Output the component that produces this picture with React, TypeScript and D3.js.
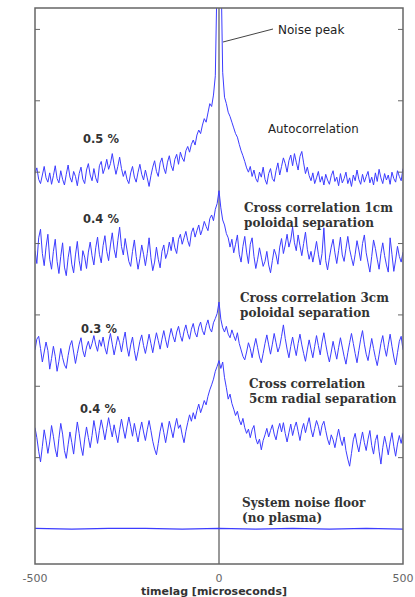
import React from 'react';
import * as d3 from 'd3';

// timelag in microseconds, 5 us step from -500 to 500
const timelag: number[] = d3.range(-500, 501, 5);

const autocorrelation = [
  49.8, 50.6, 49.0, 48.4, 49.6, 50.8, 49.2, 48.6, 49.9, 48.3,
  49.5, 50.9, 49.1, 48.5, 50.2, 49.0, 48.2, 49.7, 51.0, 49.3,
  48.6, 50.1, 49.4, 48.1, 49.8, 50.7, 49.0, 48.4, 50.3, 51.2,
  49.6, 48.8, 50.5, 49.2, 48.5, 50.9, 51.5, 49.8, 50.6, 51.8,
  50.4, 51.2, 52.6, 51.0, 49.7, 50.8, 52.1, 50.5, 49.4, 50.2,
  49.0, 48.4, 49.9, 50.8, 49.3, 48.6, 50.0, 51.1, 49.7, 48.9,
  50.3, 49.2, 48.0, 49.5, 50.7, 51.6, 50.1, 49.4, 51.3, 52.0,
  50.6, 49.8, 51.4, 52.3, 50.9, 50.2, 51.8, 52.5, 51.1, 52.8,
  52.0, 51.5, 53.0, 53.6, 52.8, 53.9, 54.5, 53.8, 55.2, 55.9,
  55.4, 56.6, 57.5, 57.0, 58.3, 59.6, 59.2, 60.8, 63.5, 78.0,
  90.0,
  80.0, 64.0, 60.5, 59.6, 58.4, 57.8, 57.0, 56.2, 55.4, 54.9,
  53.9, 53.0, 52.3, 51.5, 50.6, 50.0, 50.8, 49.4, 50.3, 49.1,
  48.6, 50.0, 49.3, 50.7, 49.0, 48.3, 49.8, 50.5, 49.1, 48.7,
  50.2, 51.3, 49.6, 50.8, 52.0, 51.2, 50.0, 51.6, 52.4, 50.9,
  52.6, 51.4, 50.3, 52.2, 52.9, 51.3, 49.8, 50.7, 49.5, 48.8,
  49.9, 48.4, 49.2, 50.1, 48.6, 49.4, 48.2, 49.7, 48.9, 48.3,
  49.5, 50.2, 48.7, 49.3, 48.1, 49.8, 48.5, 49.1, 50.0, 48.4,
  49.2, 48.0, 49.6, 48.8, 50.3, 49.0, 48.3, 49.7, 48.6, 49.4,
  50.1, 48.5, 49.3, 48.2, 49.9, 48.7, 50.4, 49.2, 48.4, 49.8,
  48.9, 49.6, 48.3, 50.0, 49.1, 48.6, 50.2, 49.4, 48.8, 50.5,
];

const cross1cm = [
  39.0, 37.2, 40.8, 42.0, 38.6, 36.9, 39.5, 41.3, 37.8, 36.4,
  38.9, 40.6, 37.5, 35.8, 38.2, 40.1, 36.7, 35.5, 38.0, 39.6,
  37.1, 35.9, 38.4, 40.3, 37.6, 36.2, 39.0, 38.1, 36.5, 38.8,
  40.2, 38.3, 37.0, 39.4, 40.9, 38.5, 37.3, 39.7, 41.1, 38.9,
  37.6, 39.8, 41.5, 39.2, 38.0, 40.4, 42.3, 39.6, 38.4, 40.7,
  39.1, 37.5, 36.8, 38.9, 40.5, 38.2, 36.4, 37.9, 39.8, 38.5,
  36.9, 38.6, 40.8, 38.0, 36.2, 37.4, 39.5, 37.8, 36.6, 38.9,
  39.8, 37.9, 38.7, 40.2, 39.0, 40.9, 39.4, 38.6, 40.6, 41.3,
  39.9, 40.8, 41.7, 40.4, 39.6, 41.5, 42.2, 40.9, 41.8, 42.6,
  41.2, 42.0, 43.1, 42.4, 41.8, 43.5, 44.0, 43.2, 44.8, 45.6,
  47.4,
  45.0, 43.3, 42.6, 41.4, 40.8, 39.5, 40.6, 38.7, 39.9, 41.2,
  38.5, 37.4, 39.6, 41.0, 38.8, 37.2, 39.9, 40.8, 38.2, 36.5,
  37.8, 39.4, 38.1, 36.8, 37.5, 38.9, 37.0, 35.9, 37.6, 39.2,
  38.4, 37.1, 39.5, 40.7, 38.6, 39.8, 41.3, 39.5, 40.5, 42.3,
  40.1, 39.0, 41.2, 39.7, 38.3, 40.0, 41.6, 39.2, 37.8, 38.9,
  37.4, 38.8, 40.3, 38.5, 37.0, 38.6, 42.2, 37.6, 36.3, 38.0,
  39.5, 40.6, 38.7, 37.2, 39.0, 40.9, 38.4, 37.5, 39.3, 41.0,
  39.2, 38.0, 36.9, 38.5, 40.4, 39.1, 37.6, 40.0, 41.2, 38.7,
  37.3, 36.0, 38.2, 40.5, 39.3, 37.8, 36.4, 38.6, 40.1, 38.3,
  37.0, 36.0, 40.8, 38.5, 36.1, 37.7, 39.6, 38.2, 37.4, 38.8,
];

const cross3cm = [
  25.1, 26.6, 27.0, 25.3, 23.4, 24.8, 26.2, 25.0, 22.4, 23.9,
  25.6, 24.2, 22.1, 23.5, 25.3, 24.0, 23.0, 22.5, 24.3, 25.7,
  26.4, 24.8, 23.2, 24.6, 25.9, 26.8, 25.0, 24.1, 25.5, 26.3,
  25.2, 26.0, 27.1, 25.8, 24.9, 26.5, 25.6, 26.9, 25.4, 24.5,
  26.2, 27.4, 25.9, 24.4, 25.7, 27.0, 26.1, 24.8, 26.4, 27.6,
  25.5, 24.2, 25.8, 26.9, 25.0, 23.6, 24.9, 26.3, 27.2, 25.7,
  24.6, 25.9, 27.3, 26.0, 24.7, 26.2, 27.5, 26.4, 25.2, 26.6,
  27.8, 26.5, 25.4, 26.9, 28.1, 27.0, 26.2, 27.6, 28.4, 27.1,
  26.3, 27.7, 28.6, 27.4, 26.6, 28.0, 28.8, 27.5, 26.9, 28.3,
  29.0, 27.8, 27.2, 28.5, 29.3, 28.1, 27.6, 28.9, 29.5, 30.2,
  31.8,
  29.4, 28.2, 27.6, 28.4, 27.3, 26.8, 27.9, 27.1, 26.4, 27.5,
  26.0, 25.1, 24.2, 23.7, 24.8, 26.1, 25.3, 24.0, 25.5, 26.7,
  25.4, 24.1, 23.3, 24.6, 26.0, 27.2, 25.8, 24.5, 25.9, 27.4,
  26.1, 24.8, 25.6, 27.0, 28.6, 26.7, 25.2, 24.0, 25.6, 26.9,
  25.5, 24.3, 26.0, 27.3, 25.8, 24.6, 23.5, 25.1, 26.5, 25.2,
  24.0, 25.6, 27.1, 25.7, 24.4, 26.2, 27.5, 25.9, 24.5, 23.4,
  24.8, 26.3, 25.0, 23.8, 25.4, 26.8, 25.5, 24.2, 23.1, 24.7,
  26.1, 27.4, 26.0, 24.6, 23.3, 25.0, 26.6, 27.8, 25.9, 24.5,
  23.6, 25.2, 26.7, 25.3, 24.0, 22.9, 24.4, 26.0, 27.1, 25.4,
  24.2, 25.8, 27.3, 25.6, 24.1, 23.0, 24.7, 26.3, 27.0, 25.1,
];

const cross5cm = [
  14.2, 12.8, 10.9, 9.4, 11.6, 13.9, 12.4, 10.6, 12.2, 14.5,
  13.0, 11.2, 10.1, 12.7, 14.8, 13.3, 11.0, 9.9, 11.8, 13.6,
  12.1, 10.5, 12.9, 15.0, 13.4, 11.5, 10.3, 12.6, 14.3, 12.8,
  11.4, 13.1, 15.2, 13.7, 12.0, 13.8, 15.3, 14.0, 12.5, 14.1,
  15.6, 14.2, 12.9, 14.6, 13.3, 12.1, 13.9, 15.4, 14.0, 12.7,
  14.3, 15.7, 14.4, 13.0, 14.8, 13.5, 12.2, 13.8, 15.0, 13.6,
  12.4, 13.9, 15.2, 13.8, 12.3, 11.2, 10.4, 12.0, 13.7, 14.9,
  13.5, 12.1, 13.6, 15.1, 14.0, 12.8, 14.3, 15.5, 14.1, 14.6,
  13.2, 12.1, 13.7, 14.9, 16.0, 15.1, 16.3, 15.4, 16.6, 17.5,
  16.3, 17.1, 18.0, 17.4, 18.6, 19.5, 20.2, 21.0, 22.1, 22.8,
  23.6,
  22.5, 23.4, 21.2, 19.8, 18.2, 18.9, 17.6, 16.8, 15.9, 16.5,
  15.3, 14.6, 15.5, 14.2, 13.4, 14.0, 12.8, 13.9, 14.5, 12.7,
  11.9, 12.6, 11.1, 12.4, 13.2, 14.1, 12.9, 13.8, 14.6, 13.3,
  12.5, 13.9, 14.8, 13.6, 14.9, 13.4, 12.2, 13.5, 14.7, 13.1,
  14.2, 15.0, 13.7, 12.4, 13.9, 14.8, 13.5, 14.6, 15.6, 14.0,
  12.9, 14.1, 15.2, 14.4, 13.1, 14.5, 15.1, 13.8, 12.6, 11.8,
  13.2, 12.5, 11.4, 12.8, 14.0, 12.6, 11.7, 12.9, 11.0, 9.8,
  8.8, 10.6, 12.5, 13.4, 11.9, 10.8, 12.3, 13.6, 12.1, 11.0,
  12.6, 13.8, 11.7, 10.5, 12.4, 13.2, 10.9, 9.1, 11.4, 13.0,
  11.8, 10.4, 12.2, 13.5, 11.6, 10.2, 11.9, 13.1, 12.0, 13.4,
];

const noiseTime = [-500, -400, -300, -200, -100, 0, 100, 200, 300, 400, 500];
const noiseFloor = [0.1, 0.0, 0.1, 0.1, 0.0, 0.1, 0.0, 0.1, 0.0, 0.1, 0.0];

const yTicks = [10, 20, 30, 40, 50, 60, 70];
const xTickLabels = [-500, 0, 500];

const percentLabels = [
  { text: '0.5 %', x: 83, y: 143 },
  { text: '0.4 %', x: 83, y: 223 },
  { text: '0.3 %', x: 81, y: 333 },
  { text: '0.4 %', x: 80, y: 413 },
];

const serifLabels = [
  { lines: ['Cross correlation 1cm', 'poloidal separation'], x: 244, y: 212 },
  { lines: ['Cross correlation 3cm', 'poloidal separation'], x: 240, y: 302 },
  { lines: ['Cross correlation', '5cm radial separation'], x: 249, y: 388 },
  { lines: ['System noise floor', '(no plasma)'], x: 242, y: 507 },
];

const W = 415;
const H = 597;
const left = 35, right = 403, top = 8, bottom = 564;

export default function App() {
  const x = d3.scaleLinear().domain([-500, 500]).range([left, right]);
  const y = d3.scaleLinear().domain([-4.9, 73]).range([bottom, top]);

  const line = d3.line<number>()
    .x((_, i) => x(timelag[i]))
    .y(d => y(d));
  const floorLine = d3.line<number>()
    .x((_, i) => x(noiseTime[i]))
    .y(d => y(d));

  const traces = [autocorrelation, cross1cm, cross3cm, cross5cm];
  const blue = '#3c3cff';
  const sans = 'DejaVu Sans, Verdana, sans-serif';
  const serif = 'DejaVu Serif, serif';

  return (
    <svg width={W} height={H} style={{ display: 'block' }}>
      <style>{'body{margin:0}'}</style>
      <rect width={W} height={H} fill="#fff" />
      <defs>
        <clipPath id="plotclip">
          <rect x={left} y={top} width={right - left} height={bottom - top} />
        </clipPath>
      </defs>

      {/* zero line */}
      <line x1={x(0)} x2={x(0)} y1={top} y2={bottom} stroke="#777" strokeWidth={1.5} />

      <g clipPath="url(#plotclip)">
        {traces.map((t, i) => (
          <path key={i} d={line(t) || ''} fill="none" stroke={blue} strokeWidth={1} />
        ))}
        <path d={floorLine(noiseFloor) || ''} fill="none" stroke={blue} strokeWidth={1.2} />
      </g>

      {/* frame */}
      <rect x={left} y={top} width={right - left} height={bottom - top}
            fill="none" stroke="#666" strokeWidth={1.5} />
      {yTicks.map(t => (
        <g key={t}>
          <line x1={left} x2={left + 5} y1={y(t)} y2={y(t)} stroke="#666" />
          <line x1={right - 5} x2={right} y1={y(t)} y2={y(t)} stroke="#666" />
        </g>
      ))}

      {xTickLabels.map(t => (
        <text key={t} x={x(t)} y={582} textAnchor="middle" fontFamily={sans}
              fontSize={11} fill="#666">{t}</text>
      ))}
      <text x={214} y={595} textAnchor="middle" fontFamily={sans} fontSize={11}
            fontWeight="bold" fill="#333">timelag [microseconds]</text>

      {percentLabels.map((p, i) => (
        <text key={i} x={p.x} y={p.y} fontFamily={sans} fontSize={11.5}
              fontWeight="bold" fill="#333">{p.text}</text>
      ))}

      <text x={268} y={133} fontFamily={sans} fontSize={11.8} fill="#222">Autocorrelation</text>
      <text x={278} y={34} fontFamily={sans} fontSize={12} fill="#222">Noise peak</text>
      <line x1={273} y1={29} x2={223} y2={42} stroke="#444" strokeWidth={1} />

      {serifLabels.map((l, i) => (
        <text key={i} x={l.x} y={l.y} fontFamily={serif} fontSize={12}
              fontWeight="bold" fill="#333">
          {l.lines.map((s, j) => (
            <tspan key={j} x={l.x} dy={j === 0 ? 0 : 15}>{s}</tspan>
          ))}
        </text>
      ))}
    </svg>
  );
}
